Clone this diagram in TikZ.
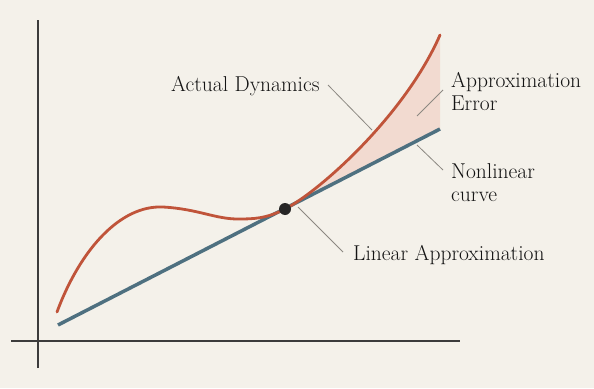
\documentclass[tikz,border=0pt]{standalone}
\usepackage{fontspec}
\definecolor{bg}{RGB}{244,241,234}
\definecolor{redc}{RGB}{192,84,58}
\definecolor{bluec}{RGB}{78,112,128}
\definecolor{errfill}{RGB}{242,218,208}
\definecolor{leadc}{RGB}{140,136,130}
\definecolor{axisc}{RGB}{60,60,60}
\begin{document}
\begin{tikzpicture}[x=1pt,y=-1pt,
  axis/.style={draw=axisc,line width=1.2pt},
  actual/.style={draw=redc,line width=2.8pt,line cap=round},
  linear/.style={draw=bluec,line width=3.5pt},
  leader/.style={draw=leadc,line width=0.8pt},
  lbl/.style={inner sep=0pt,font=\fontsize{21.5}{23}\selectfont,align=left,text=black!92}]
\fill[bg] (0,0) rectangle (594,388);
\useasboundingbox (0,0) rectangle (594,388);
% axes
\coordinate (yb) at (38,368);
\coordinate (yt) at (38,20);
\coordinate (xl) at (11,341);
\coordinate (xr) at (460,341);
\draw[axis] (yb) -- (yt);
\draw[axis] (xl) -- (xr);
% key points
\coordinate (rs) at (57,312);
\coordinate (pk) at (163,207);
\coordinate (mn) at (238,219);
\coordinate (tp) at (285,209);
\coordinate (re) at (440,35);
\coordinate (bs) at (58,325);
\coordinate (be) at (440,129);
% error region
\fill[errfill] (tp) .. controls (320,191) and (405,115) .. (re) -- (be) -- cycle;
% linear approximation
\draw[linear] (bs) -- (be);
% actual curve
\draw[actual] (rs) .. controls (80,250) and (120,205) .. (pk)
  .. controls (198,209) and (215,219) .. (mn)
  .. controls (253,219) and (266,218.8) .. (tp)
  .. controls (320,191) and (405,115) .. (re);
\node[circle,fill=black!85,inner sep=0pt,minimum size=12pt] (dot) at (tp) {};
% labels
\node[lbl,anchor=base west] (ad) at (171,91) {Actual Dynamics};
\node[lbl,anchor=base west] (ae) at (451,110) {Approximation\\Error};
\node[lbl,anchor=base west] (nc) at (451,201.5) {Nonlinear\\curve};
\node[lbl,anchor=base west] (la) at (353,260) {Linear Approximation};
% leaders
\coordinate (adA) at (328,85); \coordinate (adB) at (372,130);
\coordinate (aeA) at (443,90); \coordinate (aeB) at (417,116);
\coordinate (ncA) at (417,145); \coordinate (ncB) at (443,170);
\coordinate (laA) at (298,207); \coordinate (laB) at (343,252);
\draw[leader] (adA) -- (adB);
\draw[leader] (aeA) -- (aeB);
\draw[leader] (ncA) -- (ncB);
\draw[leader] (laA) -- (laB);
\end{tikzpicture}
\end{document}
